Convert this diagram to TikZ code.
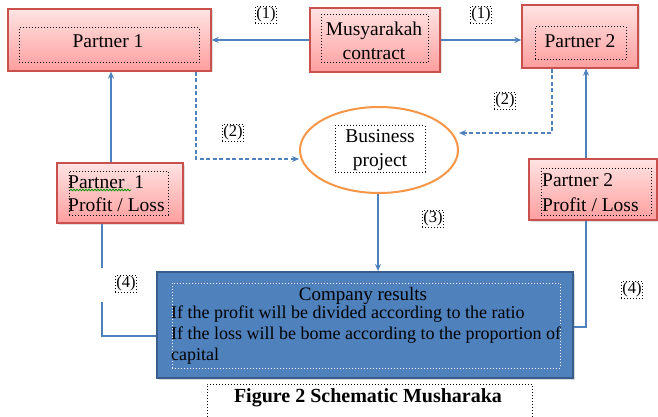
\documentclass[tikz,border=0pt]{standalone}
\usepackage{fontspec}
\setmainfont{Liberation Serif}
\usetikzlibrary{arrows.meta,shadows,decorations.pathmorphing,shapes.geometric}
\definecolor{pinktop}{HTML}{FFE3E3}
\definecolor{pinkbot}{HTML}{FF9E9E}
\definecolor{boxred}{HTML}{C9504D}
\definecolor{lineblue}{HTML}{4F81BD}
\definecolor{compblue}{HTML}{4F81BD}
\definecolor{compedge}{HTML}{385D8A}
\definecolor{ellorange}{HTML}{F79646}
\tikzset{
  redbox/.style={draw=boxred, line width=1.3pt, top color=pinktop, bottom color=pinkbot,
    drop shadow={opacity=0.25, shadow xshift=1.5pt, shadow yshift=-1.5pt}, inner sep=0pt},
  dotbox/.style={draw=black, dotted, line width=1pt, inner sep=0pt},
  wdotbox/.style={draw=white, dotted, line width=1pt, inner sep=0pt},
  txt/.style={inner sep=0pt, font=\fontsize{19.5}{23}\selectfont},
  numlab/.style={draw=black, dotted, line width=1pt, inner sep=1pt, fill=white,
    font=\fontsize{16.5}{18}\selectfont},
  conn/.style={draw=lineblue, line width=1.3pt},
  arr/.style={-{Stealth[length=7pt,width=6pt]}},
  dconn/.style={draw=lineblue, line width=1.3pt, dashed, dash pattern=on 4pt off 2.5pt}
}
\begin{document}
\begin{tikzpicture}[x=1pt,y=-1pt]
\useasboundingbox (0,0) rectangle (658,417);
\fill[white] (0,0) rectangle (658,417);

% Partner 1
\node[redbox, minimum width=203pt, minimum height=62pt] (p1) at (109.5,40) {};
\node[dotbox, minimum width=180pt, minimum height=35pt] (p1d) at (109,45.5) {};
\node[txt] (p1t) at (108,41) {Partner 1};

% Musyarakah contract
\node[redbox, minimum width=130pt, minimum height=64pt] (mc) at (375,40) {};
\node[dotbox, minimum width=107pt, minimum height=48pt] (mcd) at (374.5,39) {};
\node[txt, align=center, font=\fontsize{19.5}{24}\selectfont] (mct) at (374,41) {Musyarakah\\contract};

% Partner 2
\node[redbox, minimum width=116pt, minimum height=63pt] (p2) at (580,36.5) {};
\node[dotbox, minimum width=91pt, minimum height=33pt] (p2d) at (580.5,43.5) {};
\node[txt] (p2t) at (580,41) {Partner 2};

% Business project
\node[draw=ellorange, line width=2pt, fill=white, ellipse, minimum width=158pt, minimum height=86pt, inner sep=0pt] (bp) at (379,150) {};
\node[dotbox, minimum width=90pt, minimum height=46pt] (bpd) at (380,149) {};
\node[txt, align=center, font=\fontsize{19.5}{24}\selectfont] (bpt) at (380,150) {Business\\project};

% Partner 1 profit/loss
\node[redbox, minimum width=126pt, minimum height=60pt] (p1pl) at (120,193) {};
\node[dotbox, minimum width=99pt, minimum height=44pt] (p1pld) at (118.5,193) {};
\node[txt, align=left, anchor=west, font=\fontsize{19.5}{23}\selectfont] (p1plt) at (68,193.5) {Partner\ \ 1\\Profit / Loss};
\draw[green!60!black, line width=0.8pt, decorate, decoration={snake, amplitude=0.8pt, segment length=3pt}] (70,190) -- (131,190);

% Partner 2 profit/loss
\node[redbox, minimum width=128pt, minimum height=61pt] (p2pl) at (593,189.5) {};
\node[dotbox, minimum width=110pt, minimum height=47pt] (p2pld) at (596,191.5) {};
\node[txt, align=left, anchor=west, font=\fontsize{19.5}{25}\selectfont] (p2plt) at (542,192.5) {Partner 2\\Profit / Loss};

% Company results
\node[draw=compedge, line width=2pt, fill=compblue, minimum width=416pt, minimum height=106pt, inner sep=0pt,
  drop shadow={opacity=0.3, shadow xshift=1.5pt, shadow yshift=-1.5pt}] (cr) at (365,325) {};
\node[wdotbox, minimum width=388pt, minimum height=85pt] (crd) at (366,325.5) {};
\node[txt, font=\fontsize{19}{21}\selectfont] (crt) at (363,296) {Company results};
\node[txt, align=left, anchor=north west, font=\fontsize{18}{21}\selectfont] (crl) at (171,306)
  {If the profit will be divided according to the ratio\\
   If the loss will be bome according to the proportion of\\
   capital};

% Caption
\draw[dotbox] (207,420) -- (207,384) -- (532,384) -- (532,420);
\node[txt, font=\bfseries\fontsize{20}{22}\selectfont] (cap) at (368,398) {Figure 2 Schematic Musharaka};

% Connectors
\draw[conn, arr] (mc.west) -- (p1.east |- mc.west);
\draw[conn, arr] (mc.east) -- (p2.west |- mc.east);

\coordinate (d1) at (196,159);
\draw[dconn, arr] (p1.south -| d1) -- (d1) -- (bp.west |- d1);
\coordinate (d2) at (552,133);
\draw[dconn, arr] (p2.south -| d2) -- (d2) -- (bp.east |- d2);

\draw[conn, arr] (bp.south -| 378,0) -- (cr.north -| 378,0);

\coordinate (a1) at (111,0);
\draw[conn, arr] (p1pl.north -| a1) -- (p1.south -| a1);
\coordinate (a2) at (586,0);
\draw[conn, arr] (p2pl.north -| a2) -- (p2.south -| a2);

\coordinate (g1) at (102,268);
\coordinate (g2) at (102,302);
\coordinate (g3) at (102,336);
\draw[conn] (p1pl.south -| g1) -- (g1);
\draw[conn] (g2) -- (g3) -- (cr.west |- g3);

\coordinate (r1) at (586,327);
\draw[conn] (p2pl.south -| r1) -- (r1) -- (cr.east |- r1);

% Step labels
\node[numlab] (l1a) at (266,15) {(1)};
\node[numlab] (l1b) at (481,15) {(1)};
\node[numlab] (l2a) at (233,133) {(2)};
\node[numlab] (l2b) at (505,101) {(2)};
\node[numlab] (l3) at (433,219) {(3)};
\node[numlab] (l4a) at (126,284) {(4)};
\node[numlab] (l4b) at (632,290) {(4)};
\end{tikzpicture}
\end{document}
